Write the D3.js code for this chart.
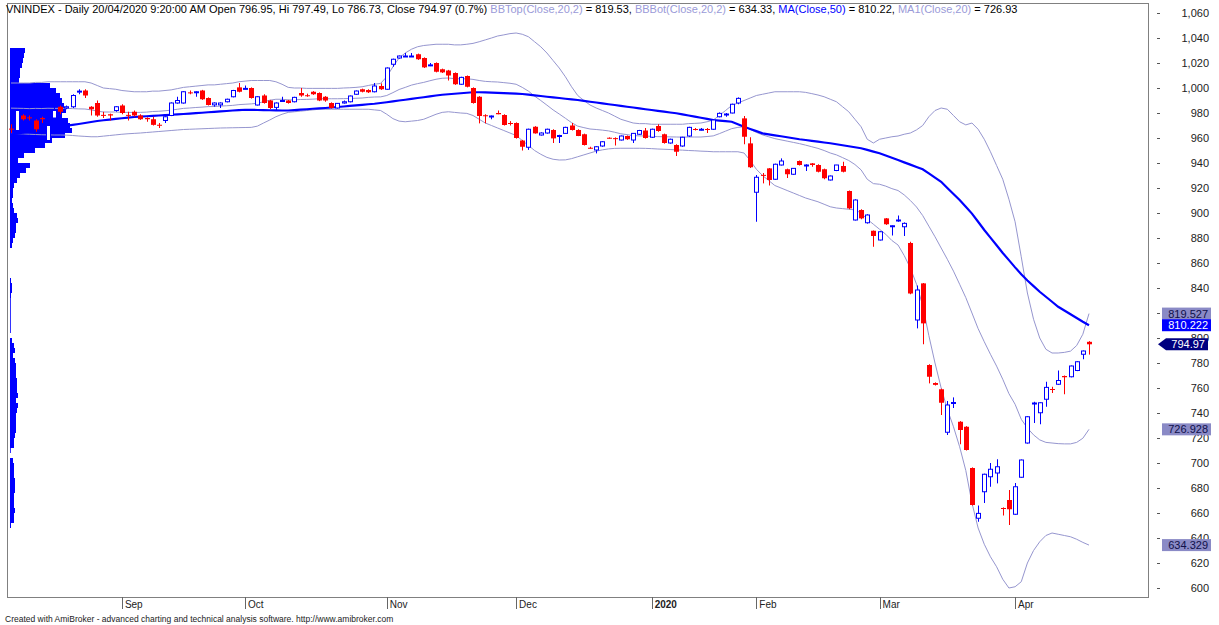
<!DOCTYPE html>
<html>
<head>
<meta charset="utf-8">
<script src="https://cdn.jsdelivr.net/npm/d3@7"></script>
<style>
  body { margin: 0; background: #fff; }
  svg { display: block; font-family: Arial, "Liberation Sans", sans-serif; }
</style>
</head>
<body>
<svg id="chart" width="1219" height="625"></svg>
<script>
// VNINDEX daily, 07/08/2019 .. 20/04/2020 (176 sessions)
const opens = [
  967.5,966,978,976.5,974,976,958,976,985,984, 985,997,998,985,988,978.5,979,982,
  986,978.5,981,978,976,975,970.6,974,978,988, 988,996.5,996.8,998,992,986.5,986.5,989,993,1000.5,
  999.5,1000,986.4,994,990,984.5,989.8,990,989,996, 994.2,997,996,993,988,984,988,989,995,999, 998.4,997,1001.6,
  999,1019,1024,1025.3,1025.3,1027,1024,1018.2,1020,1015, 1014,1012,1003,1009.6,1000,993,978.2,977.4,980,978.4, 972,
  972,958,952.6,969,962.4,964,966.4,961.6,963.7,970, 966.4,963,952.2,950.4,953.6,960.2,959.9,958.4,961.6,958.4, 963,966,
  960.6,969.6,963,956,954.4,953.6,961.6,967.2,966.8,967.2, 967,977,979,980,988,975.7,955.7,
  916.6,930.5,935.7,927,938.4,935,931,941.6,938.2,939.7, 938.4,935,926.4,934,937.6,917.6,894.4,902.4,892.2,885.8,
  878.4,895.7,889.6,894,889,876,814.4,843.7,778.4,764, 759,724.6,748,733,729,696,655.8,677,689,692, 664,670.4,
  659,688.6,716,747.8,740.2,751,759.2,763,769.6,769, 774,787,796.95
];
const highs = [
  971,983,979,978,975,977,971,986,986,986, 995,999,999,985.5,990,981,979.5,985.5,
  987,981,982,979,976.5,977,972,977.5,988.5,993, 997.5,998,997.5,998.5,992.5,988.5,988.5,991.5,998.5,1004,
  1002,1000.5,993.5,995,990.5,988.5,993,990.5,993,1000, 995.5,997.5,996.5,993.5,988.5,988,990,994,998,999.5, 999,1004,1003.7,
  1016.5,1023.5,1026,1028,1028,1027.5,1024.5,1020,1020.5,1015.5, 1014.5,1012.5,1009,1010,1000.5,993.5,979,978,982,979, 973.5,
  972.5,958.5,967.5,969.5,964.5,967.5,967,962.6,969,972, 967,963.5,953,953.5,957.5,960.5,960.5,962,962,964, 966.5,968,
  967.5,971,963.5,959.5,955,961,969,968,968,968, 975,980.5,980,987.5,992.5,977.6,960.6,
  930.4,932,936,939.5,943.7,935.5,936,942,939,940, 939,935.5,930,938.5,941,918,911,903,899,886,
  885.5,896,890.2,898,892.5,877,842,844,779,764.5, 759.5,749.6,752.5,733.5,729.5,696.5,666,691.5,700,703, 664.5,678.4,
  684,702.8,737.5,749,748.6,765,761,774,770,778, 781.5,790,797.49
];
const lows = [
  964,965,974,974,965,972,957,975,979,983, 984,995,992,978,977,976,974,981,
  979,974,977,974.5,973,970,968,972,977.5,987.5, 987.5,995,993,990.5,986,985,984,988.5,992.5,996.5,
  999,991.5,986,987.5,983,982,989,987.5,988.5,993, 993,994.5,989.5,989,983.5,983.5,987.5,988.5,994.5,996.5, 996,996.5,998.5,
  998.5,1017,1023.5,1025,1025,1022.5,1016,1017.5,1012.5,1012, 1006,1002.5,1002.5,1000.5,987.5,971.7,971.7,975,979,970, 970,
  959.5,950,950.5,963.5,962,963.5,956,956,963.5,966, 961.5,954,951.5,947.7,953,959.5,954,958,958.5,956, 962.5,959.5,
  960,965,955.5,955.5,945.6,953,961,966,966,964, 966.5,976.5,977,979.7,987,955,936,
  893,923.7,922,926.5,938,928,930.5,938,933.6,937, 932.5,927,926,933.5,932.5,903,894,895,891.5,873,
  878,890.5,882,893,881.6,835,807.7,795,763.7,762, 738.4,722.4,744,715,710,666,653,668,681,683.7, 658,650.4,
  658.5,688.2,715.5,732,731,745,756,762.5,755,768.5, 773.5,783,786.73
];
const closes = [
  967,982,975,976,967,975,970,982,981,985, 994,997.5,994,983,978,978,978,985,
  980,978,978,975,975,970.5,970.4,977,988,990, 997,996,997,991,986.4,988,988,991,998,997,
  999.7,992,993,988,984,988,990,988,992.5,994, 994,995,990,990,984,987.7,989,993.6,997.6,997, 996.6,1001.6,999,
  1016,1023,1025.6,1025.6,1025.6,1023,1016.5,1018.5,1013,1012.5, 1010,1003,1008.5,1001,988,977.6,978,977.6,979,970.4, 971.7,
  960,953,967,963.7,964,967,959.7,962,968.5,966.4, 961.6,954.4,952,953,957,960,959.7,961.6,959,963.7, 966,960,
  967,965.6,956,959,949,960.6,968.5,967,967,967, 974.4,979.7,979.2,987,991.7,961,936.6,
  928.6,930.2,926.4,939,941.6,931,935.7,938.4,938.4,938.4, 933,927.8,929.6,938.4,933,903.7,910.4,895.7,898.4,881.6,
  885,891,889.8,894.4,891.7,835.6,838.4,811.7,769,762.5, 748.2,746.4,748.4,726.4,710.4,666.4,659.7,691,695,697, 663.7,663,
  681,702.4,737,748,748.2,760.5,759,766,768.6,777.6, 781,789.6,794.97
];

// Bollinger(Close,20,2) and moving averages
const bbTop = [
  1004,1004,1004,1004,1004.5,1004.5,1005,1005,1005,1005, 1005,1005,1005,1004,1002,1000,999.5,999,998,997.5,
  997,997,997,997.5,997.5,998,998.5,999.5,1000.5,1001, 1001.5,1002,1002.5,1002.5,1003,1003.5,1004,1005,1005.5,1006,
  1006,1006,1006,1005,1003,1000.5,1000,1000,999.7,999.7, 999.7,999.7,999.7,999.7,1000,1000.2,1000.5,1001,1002,1003,
  1003.7,1009,1017,1024,1028,1031,1033,1034,1034.5,1035, 1035,1035,1034.5,1034.5,1035,1035.7,1037,1038.5,1040,1041.6,
  1042.5,1043.5,1044,1043,1041,1037,1033,1028,1022,1016, 1009,1001,994,990,986.4,984,982,980,977.5,975,
  973.5,972,971.5,971.5,971,971,971,971,971,971, 971.5,971.7,972,973,974.4,978,982,986,988,990,
  992,994,995,996,997,997,997,997,997,996.5, 995.5,994.4,993,991,989,985,981,975,969,959,
  956,959,960,961,961.6,963,964,966.5,970,977, 982,984,983,978,973,970.5,972,967,959,949,
  938,927,911,893,865,836,815,800,791,788, 788,788.5,789.5,794,803,819.53
];
const bbBot = [
  963.7,963.5,963.3,963,962.8,962.6,962.5,962.4,962.4,962.3, 962,961.6,961.3,961,961,961.5,962,962.5,963,963.4,
  963.7,964,964.4,964.8,965.2,965.6,966,966.4,966.8,967, 967.2,967.4,967.6,967.8,968,968.1,968.2,968.3,968.4,968.5,
  969.5,972,974.4,977,979,980.5,981,981.5,982,982.5, 983,983,983,983,983,983,983,983,983,982.5,
  982,979,975.5,973.5,973,973.5,974,975,977,979, 980.5,981,980.5,980,979.7,978,975,972,970,968,
  966,964,962,958,954,950,947,944.5,943,942.4, 942.5,943.5,945,946.5,948,949.5,950.5,951.3,951.7,951.8,
  951.8,951.8,951.8,951.7,951.5,951.2,951,950.8,950.5,950.3, 950,949.8,949.5,949.3,949,949,949,949,949,948,
  942,935,930,926,922,920,918,916,914,912, 910.5,909,907,905,904,903.5,903,902.5,900,895,
  891,887,883,878,874.4,866,856,843,826,802, 780,760,743,729,713,694,668,648,635,625,
  617,607,600,601,605,620,630,637,642,644, 643,642,641,639,636.5,634.33
];
const bbMid = [
  983.9,983.8,983.7,983.5,983.7,983.6,983.8,983.7,983.7,983.7, 983.5,983.3,983.2,982.5,981.5,980.8,980.8,980.8,980.5,980.5,
  980.4,980.5,980.7,981.2,981.4,981.8,982.3,983,983.7,984, 984.4,984.7,985.1,985.2,985.5,985.8,986.1,986.7,987,987.3,
  987.8,989,990.2,991,991,990.5,990.5,990.8,990.9,991.1, 991.4,991.4,991.4,991.4,991.5,991.6,991.8,992,992.5,992.8,
  992.9,994,996.3,998.8,1000.5,1002.3,1003.5,1004.5,1005.8,1007, 1007.8,1008,1007.5,1007.3,1007.4,1006.9,1006,1005.3,1005,1004.8,
  1004.3,1003.8,1003,1000.5,997.5,993.5,990,986.3,982.5,979.2, 975.8,972.3,969.5,968.3,967.2,966.8,966.3,965.7,964.6,963.4,
  962.7,961.9,961.7,961.6,961.3,961.1,961,960.9,960.8,960.7, 960.8,960.8,960.8,961.2,961.7,963.5,965.5,967.5,968.5,969,
  967,964.5,962.5,961,959.5,958.5,957.5,956.5,955.5,954.3, 953,951.7,950,948,946.5,944.3,942,938.8,934.5,927,
  923.5,923,921.5,919.5,918,914.5,910,904.8,898,889.5, 881,872,863,853.5,843,832.3,820,807.5,797,787,
  777.5,767,755.5,747,735,728,722.5,718.5,716.5,716, 715.5,715.3,715.3,716.5,719.8,726.93
];
const ma50 = [
  963,963.6,964.2,964.8,965.4,966,967,968,969,969.8, 970.5,971.2,972,972.8,973.6,974.2,974.7,975.3,975.8,976.3,
  976.8,977.1,977.4,977.7,978,978.3,978.6,978.9,979.2,979.5, 979.9,980.2,980.6,980.9,981.3,981.6,982,982.3,982.6,982.5,
  982.4,982.3,982.2,982.1,982,982,982.3,982.7,983,983.4, 983.7,984,984.4,984.8,985.2,985.7,986.1,986.5,987,987.4,
  988,988.6,989.3,990,990.6,991.3,992,992.6,993.3,994, 994.6,995,995.4,995.8,996.2,996.6,996.6,996.5,996.3,996.1,
  995.9,995.7,995.5,995.2,994.7,994.1,993.6,993,992.5,992, 991.4,990.9,990.4,989.7,989,988.4,987.7,987,986.4,985.7,
  985,984.4,983.7,983,982.4,981.7,981.1,980.4,979.8,978.9, 978,977.1,976.2,975.3,974.4,973.9,973.5,973,971,969,
  967.2,965.5,963.7,962.9,962.1,961.4,960.6,959.8,959,958.4, 957.7,957.1,956.4,955.8,955,954.2,953.4,952.6,951.8,950.5,
  949.1,947.8,946,944.2,942.4,940.5,938.7,936.8,935,931.7, 928.3,925,920,915.2,910.4,905,899.5,893,886.4,880.3,
  874.2,868,862.3,856.5,851,846,841.5,837,833,829, 825,822,819,816,813,810.22
];

// volume-at-price profile, 4-point bins from 1032 down
const profileTopPrice = 1032;
const profileBin = 4;
const profileVolume = [
  15,14,13,12,10,10,9,40,46,50, 52,54,56,52,58,60,62,55,42,35,
  25,14,8,20,16,10,7,4,3,3, 2,3,4,7,8,6,6,5,3,2,
  0,0,0,0,0,0,1,2,2,1, 0.8,0.8,0.8,0.8,0.8,0.8,0.8,0,2,4,
  5,3,5,6,6,6,7,7,7,8, 6,8,7,6,6,6,6,5,4,4,
  0.8,0,3,4,4,4,5,5,5,4, 4,4,5,4,4,1
];

const monthLabels = ["Sep", "Oct", "Nov", "Dec", "2020", "Feb", "Mar", "Apr"];
const monthStart = [18, 38, 61, 82, 104, 121, 141, 163];
const priceTicks = d3.range(600, 1061, 20);

const tagValues = [819.527, 810.222, 794.97, 726.928, 634.329];
const tagKinds = ["band", "ma", "last", "band", "band"];

const titleParts = [
  ["VNINDEX - Daily 20/04/2020 9:20:00 AM Open 796.95, Hi 797.49, Lo 786.73, Close 794.97 (0.7%) ", "#000"],
  ["BBTop(Close,20,2)", "#9a9ad8"], [" = 819.53, ", "#000"],
  ["BBBot(Close,20,2)", "#9a9ad8"], [" = 634.33, ", "#000"],
  ["MA(Close,50)", "#0000ff"], [" = 810.22, ", "#000"],
  ["MA1(Close,20)", "#9a9ad8"], [" = 726.93", "#000"]
];

// ---------------------------------------------------------------
const svg = d3.select("#chart");
const plotLeft = 7, plotRight = 1148, plotTop = 3, plotBottom = 597;
const bandColor = "#9696cf";
const up = "#0000ff", down = "#ff0000";

const x = d3.scaleLinear().domain([0, closes.length - 1]).range([11, 1089]);
const y = d3.scaleLinear().domain([600, 1060]).range([588, 13]);

svg.append("rect").attr("width", 1219).attr("height", 625).attr("fill", "#fff");

const clip = svg.append("defs").append("clipPath").attr("id", "plotclip");
clip.append("rect").attr("x", plotLeft).attr("y", plotTop)
  .attr("width", plotRight - plotLeft).attr("height", plotBottom - plotTop);

const plot = svg.append("g").attr("clip-path", "url(#plotclip)");

// volume profile
const pv = d3.scaleLinear().domain([0, d3.max(profileVolume)]).range([0, 62]);
plot.append("g").selectAll("rect")
  .data(profileVolume)
  .join("rect")
  .attr("x", 10)
  .attr("y", (d, i) => y(profileTopPrice - i * profileBin))
  .attr("width", d => pv(d))
  .attr("height", (d, i) => y(profileTopPrice - (i + 1) * profileBin) - y(profileTopPrice - i * profileBin))
  .attr("fill", "#0000ff");

// indicator lines
const line = d3.line().x((d, i) => x(i)).y(d => y(d));
[bbTop, bbMid, bbBot].forEach(s => {
  plot.append("path").datum(s).attr("d", line)
    .attr("fill", "none").attr("stroke", bandColor).attr("stroke-width", 1);
});
plot.append("path").datum(ma50).attr("d", line)
  .attr("fill", "none").attr("stroke", "#0000ff").attr("stroke-width", 2.2);

// candles
const candles = closes.map((c, i) => ({ i, o: opens[i], h: highs[i], l: lows[i], c }));
const cg = plot.append("g").selectAll("g").data(candles).join("g");
cg.append("line")
  .attr("x1", d => Math.round(x(d.i)) + 0.5).attr("x2", d => Math.round(x(d.i)) + 0.5)
  .attr("y1", d => y(d.h)).attr("y2", d => y(d.l))
  .attr("stroke", d => d.c >= d.o ? up : down).attr("stroke-width", 1);
cg.append("rect")
  .attr("x", d => Math.round(x(d.i)) - 2 + (d.c >= d.o ? 0.5 : 0))
  .attr("y", d => y(Math.max(d.o, d.c)))
  .attr("width", d => d.c >= d.o ? 4 : 5)
  .attr("height", d => Math.max(1, y(Math.min(d.o, d.c)) - y(Math.max(d.o, d.c))))
  .attr("fill", d => d.c >= d.o ? "#fff" : down)
  .attr("stroke", d => d.c >= d.o ? up : "none")
  .attr("stroke-width", 1);

// frame
svg.append("rect")
  .attr("x", plotLeft + 0.5).attr("y", plotTop + 0.5)
  .attr("width", plotRight - plotLeft).attr("height", plotBottom - plotTop)
  .attr("fill", "none").attr("stroke", "#808080");

// right price axis
const ax = svg.append("g");
ax.selectAll("line").data(priceTicks).join("line")
  .attr("x1", plotRight + 9).attr("x2", plotRight + 12)
  .attr("y1", d => Math.round(y(d)) + 0.5).attr("y2", d => Math.round(y(d)) + 0.5)
  .attr("stroke", "#555");
ax.selectAll("text").data(priceTicks).join("text")
  .attr("x", 1209).attr("y", d => y(d) + 4)
  .attr("text-anchor", "end").attr("font-size", 11).attr("fill", "#222")
  .text(d3.format(","));

// value tags
const tagFmt = v => (String(v).split(".")[1] || "").length > 2 ? d3.format(".3f")(v) : d3.format(".2f")(v);
tagValues.forEach((v, k) => {
  const ty = y(v);
  const kind = tagKinds[k];
  const g = svg.append("g");
  if (kind === "last") {
    g.append("path")
      .attr("d", `M1158,${ty} L1166,${ty - 6} L1208,${ty - 6} L1208,${ty + 6} L1166,${ty + 6} Z`)
      .attr("fill", "#000080");
  } else {
    g.append("rect").attr("x", 1162).attr("y", ty - 6).attr("width", 49).attr("height", 12)
      .attr("fill", kind === "ma" ? "#0000ff" : "#8a8ac6");
  }
  g.append("text").attr("x", kind === "last" ? 1205 : 1208).attr("y", ty + 4)
    .attr("text-anchor", "end").attr("font-size", 11)
    .attr("fill", kind === "band" ? "#10104a" : "#fff")
    .text(tagFmt(v));
});

// month axis
const mx = svg.append("g");
mx.selectAll("line").data(monthStart).join("line")
  .attr("x1", d => Math.round(x(d)) + 0.5).attr("x2", d => Math.round(x(d)) + 0.5)
  .attr("y1", plotBottom).attr("y2", plotBottom + 12)
  .attr("stroke", "#666");
mx.selectAll("text").data(monthStart).join("text")
  .attr("x", d => x(d) + 3).attr("y", plotBottom + 11)
  .attr("font-size", 10).attr("fill", "#222")
  .attr("font-weight", (d, i) => monthLabels[i] === "2020" ? "bold" : "normal")
  .text((d, i) => monthLabels[i]);

// title
const title = svg.append("text").attr("x", 6).attr("y", 13).attr("font-size", 11);
titleParts.forEach(p => title.append("tspan").attr("fill", p[1]).text(p[0]));

// footer
svg.append("text").attr("x", 5).attr("y", 622).attr("font-size", 8.5).attr("fill", "#222")
  .text("Created with AmiBroker - advanced charting and technical analysis software. http://www.amibroker.com");
</script>
</body>
</html>
